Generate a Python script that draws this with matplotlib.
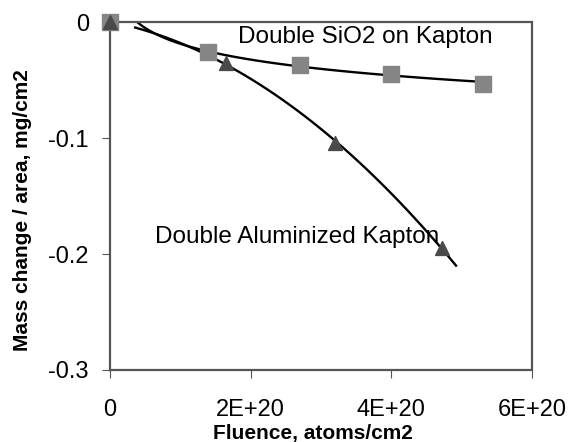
import matplotlib
matplotlib.use("Agg")
import matplotlib.pyplot as plt
import numpy as np

plt.rcParams['font.family'] = ['Liberation Sans', 'DejaVu Sans']

# データ (x: 1E20 atoms/cm2 単位)
sio2_x = [0.0, 1.39, 2.7, 4.0, 5.3]
sio2_y = [0.0, -0.026, -0.037, -0.045, -0.053]
alu_x = [0.0, 1.65, 3.2, 4.72]
alu_y = [0.0, -0.035, -0.104, -0.195]

xticks = [0, 2, 4, 6]
xticklabels = ["0", "2E+20", "4E+20", "6E+20"]
yticks = [0, -0.1, -0.2, -0.3]
yticklabels = ["0", "-0.1", "-0.2", "-0.3"]

fig = plt.figure(figsize=(5.69, 4.42), dpi=100)
ax = fig.add_axes([0.193, 0.163, 0.742, 0.787])

# トレンドライン (SiO2: 対数近似, Al: 2次多項式)
sx = np.array(sio2_x[1:])
sy = np.array(sio2_y[1:])
b, a = np.polyfit(np.log(sx), sy, 1)
xs = np.linspace(0.36, 5.35, 100)
ax.plot(xs, a + b * np.log(xs), color="black", lw=1.7, zorder=2)

p = np.polyfit(alu_x, alu_y, 2)
xa = np.linspace(0.36, 4.92, 100)
ax.plot(xa, np.polyval(p, xa), color="black", lw=1.7, zorder=2)

ax.scatter(sio2_x, sio2_y, marker="s", s=130, color="#858585", zorder=3, clip_on=False)
ax.scatter(alu_x, alu_y, marker="^", s=100, color="#4a4a4a", zorder=4, clip_on=False)

ax.text(1.82, -0.013, "Double SiO2 on Kapton", fontsize=17.5, va="center", ha="left")
ax.text(0.64, -0.185, "Double Aluminized Kapton", fontsize=17.5, va="center", ha="left")

ax.set_xlim(0, 6)
ax.set_ylim(-0.3, 0)
ax.set_xticks(xticks)
ax.set_xticklabels(xticklabels)
ax.set_yticks(yticks)
ax.set_yticklabels(yticklabels)
ax.tick_params(labelsize=17, length=6, color="#555555")
ax.tick_params(axis="x", pad=15)
ax.tick_params(axis="y", pad=9)

for s in ax.spines.values():
    s.set_linestyle((0, (1, 1)))
    s.set_color("#555555")
    s.set_linewidth(1.6)

ax.set_xlabel("Fluence, atoms/cm2", fontsize=15, fontweight="bold")
ax.set_ylabel("Mass change / area, mg/cm2", fontsize=15, fontweight="bold")
ax.xaxis.set_label_coords(0.481, -0.155)
ax.yaxis.set_label_coords(-0.185, 0.46)

plt.savefig("out.png", dpi=100)
